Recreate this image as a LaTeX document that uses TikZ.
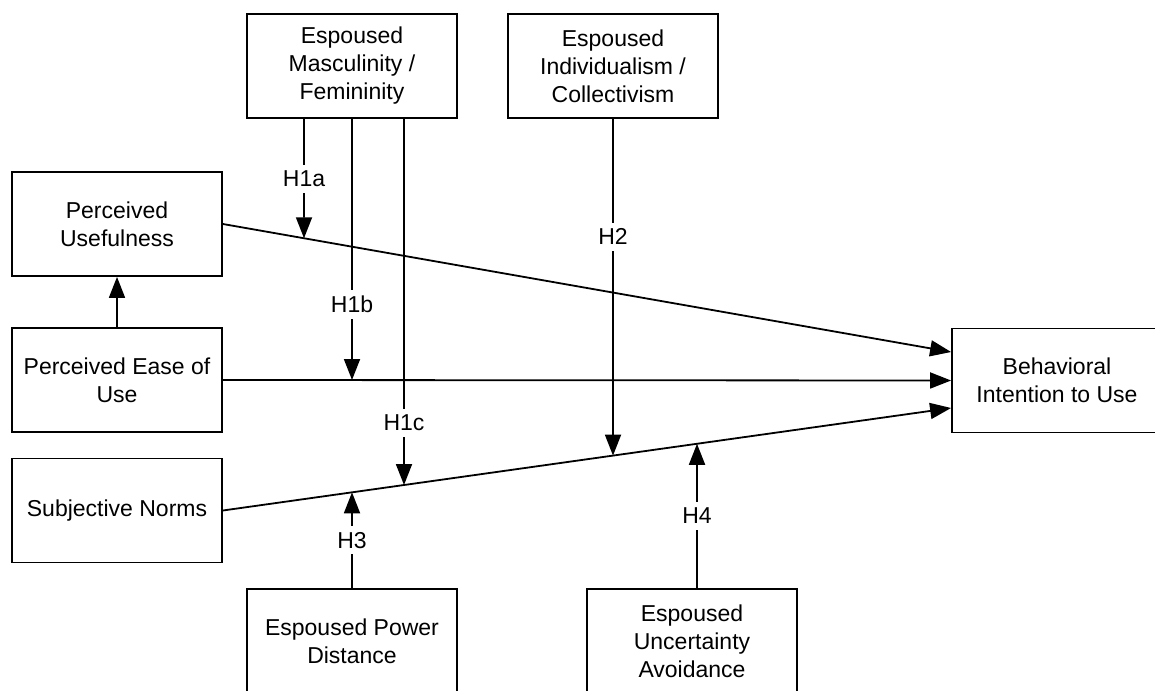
\documentclass[tikz,border=0pt]{standalone}
\usepackage{fontspec}
\setmainfont{Liberation Sans}
\usetikzlibrary{arrows.meta,calc}
\begin{document}
\begin{tikzpicture}[x=1pt,y=-1pt,line width=1.8pt,
  box/.style={draw,rectangle,minimum width=210pt,minimum height=104pt,align=center,font=\fontsize{23}{28}\selectfont,inner sep=2pt},
  arr/.style={-{Triangle[length=21pt,width=16pt]}},
  lbl/.style={fill=white,font=\fontsize{23}{28}\selectfont,inner xsep=1pt,inner ysep=6pt}]
\useasboundingbox (0,0) rectangle (1155,690);
\clip (0,0) rectangle (1155,690);

\node[box] (masc) at (352,66) {Espoused\\Masculinity /\\Femininity};
\node[box] (indiv) at (613,66) {Espoused\\Individualism /\\Collectivism};
\node[box] (pu) at (117,224) {Perceived\\Usefulness};
\node[box] (peou) at (117,380) {Perceived Ease of\\Use};
\node[box] (sn) at (117,510.5) {Subjective Norms};
\node[box] (pd) at (352,641) {Espoused Power\\Distance};
\node[box] (ua) at (692,641) {Espoused\\Uncertainty\\Avoidance};
\node[box] (bi) at (1057,380.5) {Behavioral\\Intention to Use};

\coordinate (puS) at (pu.east);
\coordinate (snS) at (sn.east);
\coordinate (puE) at ([yshift=28.5pt]bi.west);
\coordinate (snE) at ([yshift=-27.5pt]bi.west);

\draw[arr] (puS) -- (puE);
\draw[arr] (peou.east) -- (bi.west);
\draw[arr] (snS) -- (snE);
\draw[arr] (peou.north) -- (pu.south);

\coordinate (a1) at ([xshift=-48pt]masc.south);
\coordinate (a1d) at ([yshift=-50pt]a1);
\coordinate (b1) at (masc.south);
\coordinate (c1) at ([xshift=52pt]masc.south);
\coordinate (c1d) at ([yshift=-50pt]c1);
\coordinate (d2) at (indiv.south);
\coordinate (d2d) at ([yshift=-50pt]d2);
\coordinate (e3) at (pd.north);
\coordinate (e3u) at ([yshift=50pt]e3);
\coordinate (f4) at ([xshift=5pt]ua.north);
\coordinate (f4u) at ([yshift=50pt]f4);

\draw[arr] (a1) -- node[lbl]{H1a} (intersection of a1--a1d and puS--puE);
\draw[arr] (b1) -- node[lbl,pos=0.71]{H1b} (b1 |- peou.east);
\draw[arr] (c1) -- node[lbl,pos=0.83]{H1c} (intersection of c1--c1d and snS--snE);
\draw[arr] (d2) -- node[lbl,pos=0.35]{H2} (intersection of d2--d2d and snS--snE);
\draw[arr] (e3) -- node[lbl]{H3} (intersection of e3--e3u and snS--snE);
\draw[arr] (f4) -- node[lbl]{H4} (intersection of f4--f4u and snS--snE);
\end{tikzpicture}
\end{document}
